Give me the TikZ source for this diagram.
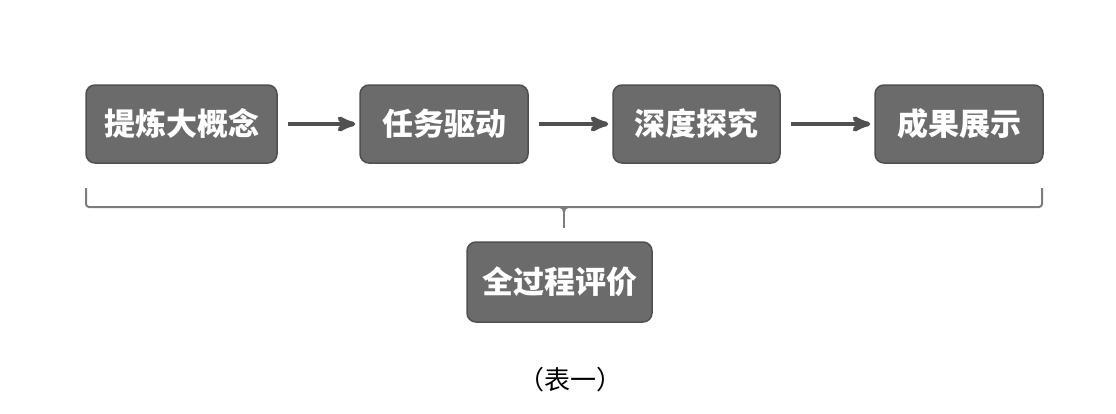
\documentclass[tikz,border=0pt]{standalone}
\usepackage{fontspec}
\usepackage{tikz}
\newfontfamily\cjk{Noto Sans CJK SC}
\usetikzlibrary{arrows}

\definecolor{boxgray}{HTML}{6B6B6B}
\definecolor{edgegray}{HTML}{505050}
\definecolor{bracegray}{HTML}{7C7C7C}

\begin{document}
\begin{tikzpicture}[x=1pt,y=-1pt,
  stage/.style={draw=edgegray,line width=1.5pt,fill=boxgray,rounded corners=9pt,
    minimum height=78pt,inner sep=0pt,text=white,
    font=\cjk\bfseries\fontsize{31}{31}\selectfont}]
\useasboundingbox (0,0) rectangle (1116,413);

\node[stage,minimum width=191pt]	(A) at (181.5,124)	{提炼大概念};
  \node[stage,minimum width=168pt]	(B) at (444,124)	{任务驱动};
  \node[stage,minimum width=167pt]	(C) at (696.5,124)	{深度探究};
  \node[stage,minimum width=168pt]	(D) at (959,124)	{成果展示};
  \node[stage,minimum width=185pt,minimum height=80pt]	(E) at (559.5,282)	{全过程评价};
  \node[font=\cjk\fontsize{26}{26}\selectfont]	(cap) at (570,380)	{（表一）};

  \coordinate (L) at (86,188);
  \coordinate (R) at (1042,188);
  \coordinate (M) at (564,207);
  \coordinate (T) at (564,228);

  \path[->,>=stealth',line width=4.5pt,draw=edgegray,shorten <=10pt,shorten >=4pt]
		(A) edge              node {} (B)
		(B) edge              node {} (C)
		(C) edge              node {} (D);

  \draw[bracegray,line width=2pt,rounded corners=3pt] (L) |- (M) -| (R);
  \draw[bracegray,line width=2pt] (M) ++(-4,0) to[out=0,in=90] ++(4,5)
		to[out=90,in=180] ++(4,-5);
  \draw[bracegray,line width=2pt] (M) ++(0,4) -- (T);
\end{tikzpicture}
\end{document}
